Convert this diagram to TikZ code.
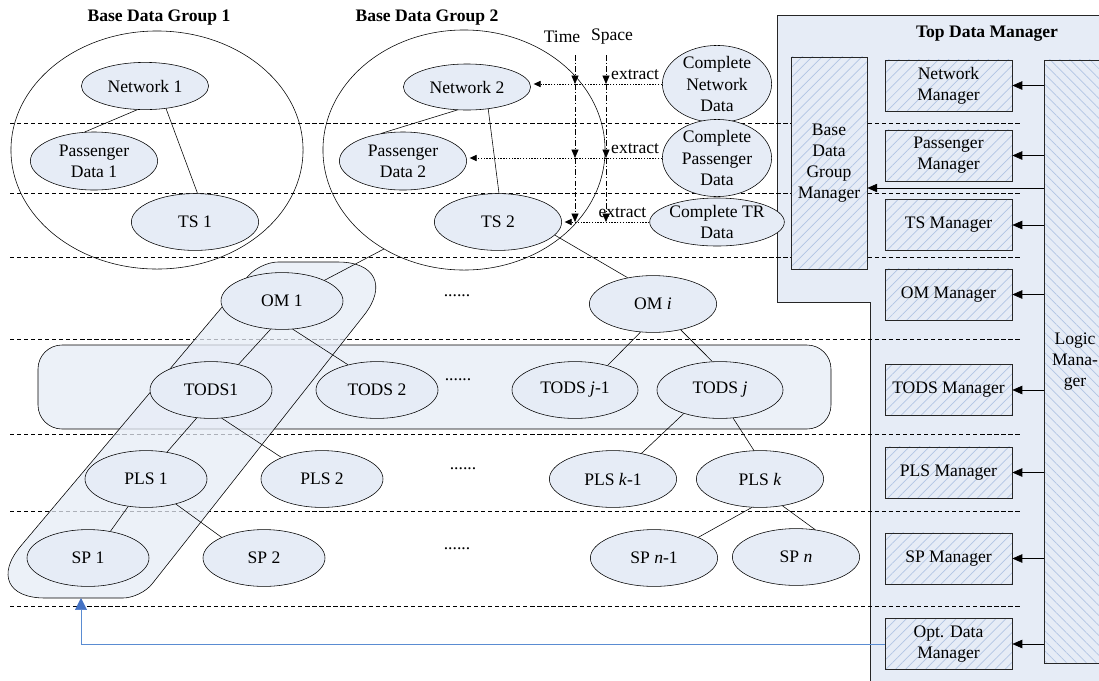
\documentclass[tikz,border=0pt]{standalone}
\usepackage{fontspec}
\setmainfont{Liberation Serif}
\usetikzlibrary{shapes.geometric}
\usetikzlibrary{positioning}
\usetikzlibrary{arrows.meta}
\usetikzlibrary{patterns.meta}
\definecolor{paleblue}{RGB}{230,236,246}
\definecolor{hatchblue}{RGB}{178,197,228}
\definecolor{linkblue}{RGB}{90,140,210}
\definecolor{tipblue}{RGB}{68,114,196}

\begin{document}
\begin{tikzpicture}
	[
		x = 0.025cm, y = -0.025cm,
		font = \fontsize{12.5}{15}\selectfont,
		mygroup/.style = {draw, ellipse, inner sep = 0pt},
		mydata/.style = {draw, ellipse, fill = paleblue, inner sep = 0pt, align = center, minimum width = 3.18cm, minimum height = 1.42cm},
		mylevel/.style = {mydata, minimum width = 3.05cm},
		mysource/.style = {mydata, minimum width = 2.73cm, minimum height = 1.38cm},
		myband/.style = {draw, fill = paleblue, fill opacity = 0.75},
		mymanager/.style = {draw = black!85, rectangle, align = center, inner sep = 1pt, preaction = {fill = paleblue}, pattern = {Lines[angle = 45, distance = 5pt, line width = 0.5pt]}, pattern color = hatchblue, minimum width = 3.18cm, minimum height = 1.28cm},
		mytitle/.style = {font = \fontsize{12.5}{15}\selectfont\bfseries},
		mylayer/.style = {dash pattern = on 3pt off 2pt},
		myarrow/.style = {-{Triangle[length = 7pt, width = 6pt]}},
		myextract/.style = {dash pattern = on 1pt off 1pt, shorten > = 2pt, -{Triangle[length = 5pt, width = 4.5pt]}},
		mysplit/.style = {dash pattern = on 4pt off 1.5pt on 1pt off 1.5pt, -{Triangle[length = 6pt, width = 5pt]}},
		myfeedback/.style = {draw = linkblue, -{Triangle[length = 8.5pt, width = 8.5pt, color = tipblue]}}
	]
	%
	\useasboundingbox (0,0) rectangle (1099,680);
	\clip (0,0) rectangle (1099,680);
	%
	% top data manager panel
	\draw [draw = black!85, fill = paleblue] (777,15) -- (1112,15) -- (1112,692) -- (870,692) -- (870,302) -- (777,302) -- cycle;
	\node (topmgr) [mytitle] at (987,34) {Top Data Manager};
	%
	% layers
	\foreach \y in {123,193,257,339,434,511,606}
		\draw [mylayer] (10,\y) -- (1020,\y);
	%
	% bands
	\draw [myband, rounded corners = 0.6cm] (38,345) rectangle (831,429);
	\draw [myband] (45,598) -- (123,598) .. controls (132.9,598) and (146,591.7) .. (152.1,583.9)
		-- (363.9,315.4) .. controls (387.1,286) and (375.4,262) .. (338,262)
		-- (278,262) .. controls (268.1,262) and (254.8,268.2) .. (248.4,275.8)
		-- (20.8,546) .. controls (-3.3,574.6) and (7.6,598) .. (45,598) -- cycle;
	\coordinate (bandfoot) at (81,598);
	%
	% base data groups
	\node (grp1lbl) [mytitle] at (159,18) {Base Data Group 1};
	\node (grp1) [mygroup, minimum width = 7.3cm, minimum height = 5.95cm] at (157,150) {};
	\node (net1) [mydata, minimum height = 1.18cm] at (145,86) {Network 1};
	\node (pas1) [mydata, minimum height = 1.45cm] at (94,161) {Passenger\\Data 1};
	\node (ts1) [mydata] at (195,222) {TS 1};
	\draw (net1.-108) -- (pas1.108);
	\draw (net1.-47) -- (ts1.85);
	%
	\node (grp2lbl) [mytitle] at (427,18) {Base Data Group 2};
	\node (grp2) [mygroup, minimum width = 7.05cm, minimum height = 6cm] at (464,150) {};
	\node (net2) [mydata, minimum height = 1.15cm] at (467,87) {Network 2};
	\node (pas2) [mydata, minimum height = 1.45cm] at (403,161) {Passenger\\Data 2};
	\node (ts2) [mydata] at (498,222) {TS 2};
	\draw (net2.-113) -- (pas2.129);
	\draw (net2.-46) -- (ts2.88);
	%
	% complete data and extraction
	\node (cnet) [mysource] at (717,84) {Complete\\Network\\Data};
	\node (cpas) [mysource] at (717,158) {Complete\\Passenger\\Data};
	\node (ctr) [mysource, minimum height = 1.2cm] at (717,222) {Complete TR\\Data};
	\draw [myextract] (cnet.west) node [above left, inner sep = 2pt, yshift = 1pt] {extract} -- (net2.east |- cnet.west);
	\draw [myextract] (cpas.west) node [above left, inner sep = 2pt, yshift = 1pt] {extract} -- (pas2.east |- cpas.west);
	\draw [myextract] (ctr.west) node [above left, inner sep = 2pt, yshift = 1pt] {extract} -- (ts2.east |- ctr.west);
	%
	\node (timelbl) at (562,37) {Time};
	\node (spacelbl) at (612,37) {Space};
	\coordinate (time0) at (575,55);
	\coordinate (space0) at (606,55);
	\draw [mysplit] (time0) -- (time0 |- cnet.west);
	\draw [mysplit] (time0 |- cnet.west) -- (time0 |- cpas.west);
	\draw [mysplit] (time0 |- cpas.west) -- (time0 |- ctr.west);
	\draw [mysplit] (space0) -- (space0 |- cnet.west);
	\draw [mysplit] (space0 |- cnet.west) -- (space0 |- cpas.west);
	\draw [mysplit] (space0 |- cpas.west) -- (space0 |- ctr.west);
	%
	% levels
	\node (om1) [mylevel] at (282,301) {OM 1};
	\node (omi) [mylevel, minimum width = 3.18cm] at (653,304) {OM \textit{i}};
	\node (tods1) [mylevel] at (211,390) {TODS1};
	\node (tods2) [mylevel] at (377,390) {TODS 2};
	\node (todsj1) [mylevel, minimum width = 3.15cm] at (575,390) {TODS \textit{j}-1};
	\node (todsj) [mylevel, minimum width = 3.15cm] at (720,390) {TODS \textit{j}};
	\node (pls1) [mylevel] at (146,479) {PLS 1};
	\node (pls2) [mylevel] at (322,479) {PLS 2};
	\node (plsk1) [mylevel, minimum width = 3.18cm] at (613,479) {PLS \textit{k}-1};
	\node (plsk) [mylevel, minimum width = 3.18cm] at (760,479) {PLS \textit{k}};
	\node (sp1) [mylevel] at (88,558) {SP 1};
	\node (sp2) [mylevel] at (264,558) {SP 2};
	\node (spn1) [mylevel, minimum width = 3.18cm] at (654,558) {SP \textit{n}-1};
	\node (spn) [mylevel, minimum width = 3.18cm] at (796,557) {SP \textit{n}};
	%
	\node (omdots) at (457,296) {......};
	\node (todsdots) at (458,380) {......};
	\node (plsdots) at (463,469) {......};
	\node (spdots) at (457,549) {......};
	%
	\draw (grp2.231) -- (om1.26);
	\draw (ts2.-13) -- (omi.134);
	\draw (om1.-112) -- (tods1.43);
	\draw (om1.-69) -- (tods2.139);
	\draw (tods1.-117) -- (pls1.52);
	\draw (tods1.-69) -- (pls2.152);
	\draw (pls1.-123) -- (sp1.50);
	\draw (pls1.-40) -- (sp2.154);
	\draw (omi.-114) -- (todsj1.37);
	\draw (omi.-43) -- (todsj.105);
	\draw (todsj.-147) -- (plsk1.42);
	\draw (todsj.-65) -- (plsk.102);
	\draw (plsk.-106) -- (spn1.25);
	\draw (plsk.-50) -- (spn.55);
	%
	% managers
	\node (bdgm) [mymanager, minimum width = 1.9cm, minimum height = 5.3cm] at (829,163) {Base\\Data\\Group\\Manager};
	\node (netmgr) [mymanager] at (948.5,85.5) {Network\\Manager};
	\node (pasmgr) [mymanager] at (948.5,155.5) {Passenger\\Manager};
	\node (tsmgr) [mymanager] at (948.5,225) {TS Manager};
	\node (ommgr) [mymanager] at (948.5,294.5) {OM Manager};
	\node (todsmgr) [mymanager] at (948.5,390) {TODS Manager};
	\node (plsmgr) [mymanager] at (948.5,472.5) {PLS Manager};
	\node (spmgr) [mymanager] at (948.5,558.5) {SP Manager};
	\node (optmgr) [mymanager] at (948.5,644) {Opt. Data\\Manager};
	\node (logic) [mymanager, pattern = {Lines[angle = -45, distance = 5pt, line width = 0.5pt]}, minimum width = 1.55cm, minimum height = 15.08cm] at (1075,361.5) {Logic\\Mana-\\ger};
	%
	\foreach \m in {netmgr,pasmgr,tsmgr,ommgr,todsmgr,plsmgr,spmgr,optmgr}
		\draw [myarrow] (logic.west |- \m) -- (\m.east);
	\coordinate (bdgmlink) at (0,188);
	\draw [myarrow] (logic.west |- bdgmlink) -- (bdgm.east |- bdgmlink);
	%
	\draw [myfeedback] (optmgr.west) -| (bandfoot);
	%
\end{tikzpicture}
\end{document}
